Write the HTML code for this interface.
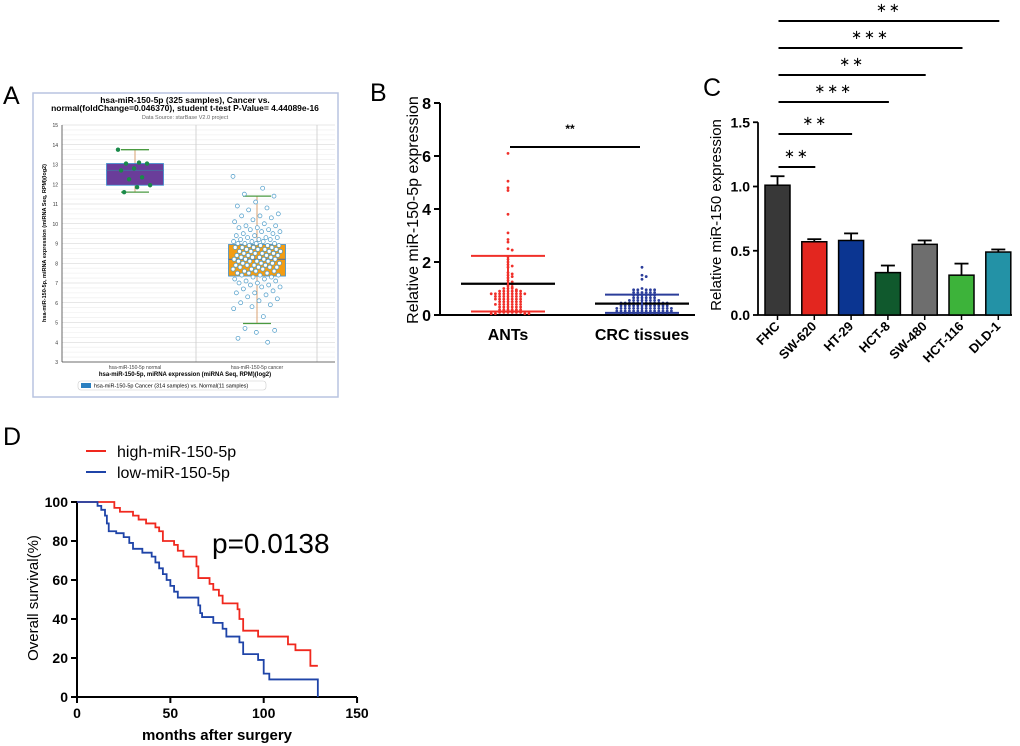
<!DOCTYPE html>
<html><head><meta charset="utf-8"><style>
html,body{margin:0;padding:0;background:#fff}
svg{display:block;font-family:"Liberation Sans",Arial,sans-serif}
</style></head><body>
<svg id="fig" width="1020" height="746" viewBox="0 0 1020 746" xmlns="http://www.w3.org/2000/svg">
<text x="3" y="104" font-size="25">A</text>
<text x="370" y="101" font-size="25">B</text>
<text x="703" y="96" font-size="25">C</text>
<text x="3" y="445" font-size="25">D</text>
<g id="pa"></g>
<g id="pb"></g>
<g id="pc"></g>
<g id="pd"></g>
</svg>
<script>
// ---------- Panel A data ----------
const aNormal=[13.75,13.1,13.05,13.05,12.8,12.7,12.35,12.25,11.95,11.85,11.6];
const aNormalBox=[11.6,11.95,12.7,13.05,13.75];
const aCancerBox=[4.95,7.35,8.2,8.95,11.4];
const aCancer=[12.4,11.8,11.5,11.4,11.1,10.9,10.8,10.7,10.5,10.4,10.4,10.3,10.2,10.1,10,9.9,9.9,9.8,9.8,9.7,9.7,9.6,9.6,9.5,9.5,9.4,9.4,9.3,9.3,9.3,9.2,9.2,9.2,9.1,9.1,9.1,9,9,9,9,8.9,8.9,8.9,8.9,8.8,8.8,8.8,8.8,8.7,8.7,8.7,8.7,8.6,8.6,8.6,8.6,8.5,8.5,8.5,8.5,8.4,8.4,8.4,8.4,8.3,8.3,8.3,8.3,8.2,8.2,8.2,8.2,8.1,8.1,8.1,8.1,8,8,8,8,7.9,7.9,7.9,7.9,7.8,7.8,7.8,7.8,7.7,7.7,7.7,7.6,7.6,7.6,7.5,7.5,7.5,7.4,7.4,7.4,7.3,7.3,7.2,7.2,7.1,7.1,7,7,6.9,6.9,6.8,6.8,6.7,6.6,6.5,6.5,6.4,6.3,6.2,6.1,6,5.9,5.8,5.7,5.3,4.7,4.6,4.5,4.2,4.0];
// ---------- Panel B data ----------
const bAnts=[6.1,5.05,4.8,4.7,3.8,3.1,2.85,2.75,2.5,2.45,2.2,2.1,2.0,1.9,1.85,1.8,1.6,1.55,1.5,1.45,1.4,1.3,1.25,1.2,1.15,1.1,1.05,1.0,1.0,1.0,0.95,0.9,0.9,0.9,0.9,0.9,0.9,0.8,0.8,0.8,0.8,0.8,0.8,0.8,0.8,0.8,0.7,0.7,0.7,0.7,0.7,0.7,0.7,0.6,0.6,0.6,0.6,0.6,0.6,0.6,0.5,0.5,0.5,0.5,0.5,0.5,0.4,0.4,0.4,0.4,0.4,0.4,0.4,0.3,0.3,0.3,0.3,0.3,0.3,0.2,0.2,0.2,0.2,0.2,0.2,0.1,0.1,0.1,0.1,0.1,0.1,0.05,0.05,0.05,0.05];
const bCrc=[1.8,1.5,1.45,1.35,1.0,0.95,0.95,0.95,0.95,0.95,0.85,0.85,0.85,0.85,0.85,0.85,0.75,0.75,0.75,0.75,0.75,0.75,0.65,0.65,0.65,0.65,0.65,0.65,0.55,0.55,0.55,0.55,0.55,0.55,0.55,0.55,0.45,0.45,0.45,0.45,0.45,0.45,0.45,0.45,0.45,0.45,0.45,0.45,0.35,0.35,0.35,0.35,0.35,0.35,0.35,0.35,0.35,0.35,0.35,0.35,0.25,0.25,0.25,0.25,0.25,0.25,0.25,0.25,0.25,0.25,0.25,0.25,0.25,0.25,0.15,0.15,0.15,0.15,0.15,0.15,0.15,0.15,0.15,0.15,0.15,0.15,0.15,0.15,0.08,0.08,0.08,0.08,0.08,0.08,0.08,0.08,0.08,0.08,0.08,0.08];
const bMean=[1.18,0.43];
const bSdLow=[0.13,0.08];
const bSdHigh=[2.23,0.77];
const bTicks=[0,2,4,6,8];
// ---------- Panel C data ----------
const cCats=["FHC","SW-620","HT-29","HCT-8","SW-480","HCT-116","DLD-1"];
const cVals=[1.01,0.57,0.58,0.33,0.55,0.31,0.49];
const cErr=[0.07,0.02,0.055,0.055,0.03,0.09,0.02];
const cColors=["#383838","#e3261f","#0b3591","#10592d","#6e6e6e","#3db33a","#2392a6"];
const cTicks=[0,0.5,1.0,1.5];
const cSigTarget=[1,2,3,4,5,6];
const cSigLabel=["**","**","***","**","***","**"];
// ---------- Panel D data ----------
const dHighT=[0,20,23,30,33,37,42,44,46,52,54,57,64,65,71,73,76,78,86,87,89,97,113,117,125,129];
const dHighS=[100,97,95,93,91,89,87,85,80,78,75,72,67,61,58,55,52,48,45,40,34,31,27,24,16,16];
const dLowT=[0,11,13,15,16,17,21,25,28,30,35,40,42,44,46,48,50,52,54,65,66,67,73,78,80,87,89,97,100,103,129];
const dLowS=[100,98,96,93,89,85,84,82,79,76,74,72,69,66,63,60,57,54,51,47,43,41,38,35,31,28,22,19,12,9,9];
const dXTicks=[0,50,100,150];
const dYTicks=[0,20,40,60,80,100];

const NS="http://www.w3.org/2000/svg";
function mk(parent,tag,attrs,txt){const e=document.createElementNS(NS,tag);for(const k in attrs)e.setAttribute(k,attrs[k]);if(txt!==undefined)e.textContent=txt;parent.appendChild(e);return e;}

// ================= Panel A =================
(function(){
const g=document.getElementById('pa');
const yA=v=>362-(v-3)*19.75;
const L=62,R=335;
mk(g,'rect',{x:33,y:93,width:305,height:304,fill:'#fff',stroke:'#b8c4e0','stroke-width':1.5});
const cp=mk(g,'clipPath',{id:'acl'});mk(cp,'rect',{x:34,y:94,width:303,height:302});
const c=mk(g,'g',{'clip-path':'url(#acl)'});
for(let v=3;v<=15;v+=0.25){const ln=mk(c,'line',{x1:L,x2:R,y1:yA(v),y2:yA(v),stroke:Number.isInteger(v)?'#cfcfcf':'#ececec','stroke-width':0.6});
}
[196,317].forEach(x=>mk(c,'line',{x1:x,x2:x,y1:125,y2:362,stroke:'#ccc','stroke-width':0.8}));
mk(c,'line',{x1:L,x2:L,y1:125,y2:362,stroke:'#444','stroke-width':0.8});
mk(c,'line',{x1:L,x2:R,y1:362,y2:362,stroke:'#444','stroke-width':0.8});
for(let v=3;v<=15;v++){const t=mk(c,'text',{x:L-4,y:yA(v)+2,'font-size':5,'text-anchor':'end',fill:'#333'},String(v));}
const tt=mk(c,'text',{x:185,y:103,'font-size':8.5,'font-weight':'bold','text-anchor':'middle'},'hsa-miR-150-5p (325 samples), Cancer vs.');
mk(c,'text',{x:185,y:111,'font-size':8.5,'font-weight':'bold','text-anchor':'middle'},'normal(foldChange=0.046370), student t-test P-Value= 4.44089e-16');
mk(c,'text',{x:185,y:119,'font-size':5.5,'text-anchor':'middle',fill:'#666'},'Data Source: starBase V2.0 project');
const yt=mk(c,'text',{transform:'translate(46,243) rotate(-90)','font-size':5.5,'font-weight':'bold','text-anchor':'middle'},'hsa-miR-150-5p, miRNA expression (miRNA Seq, RPM)(log2)');
mk(c,'text',{x:135,y:369,'font-size':5,'text-anchor':'middle',fill:'#444'},'hsa-miR-150-5p normal');
mk(c,'text',{x:257,y:369,'font-size':5,'text-anchor':'middle',fill:'#444'},'hsa-miR-150-5p cancer');
mk(c,'text',{x:185,y:376,'font-size':6,'font-weight':'bold','text-anchor':'middle'},'hsa-miR-150-5p, miRNA expression (miRNA Seq, RPM)(log2)');
const lg=mk(c,'rect',{x:78,y:381,width:188,height:9,rx:3,fill:'#fff',stroke:'#ccc','stroke-width':0.6});
mk(c,'rect',{x:81,y:383,width:10,height:5,fill:'#2a7fc0'});
mk(c,'text',{x:94,y:387.5,'font-size':5.5},'hsa-miR-150-5p Cancer (314 samples) vs. Normal(11 samples)');
function box(cx,b,fill,w){
 mk(c,'line',{x1:cx,x2:cx,y1:yA(b[4]),y2:yA(b[0]),stroke:'#d9a070','stroke-width':1});
 const r=mk(c,'rect',{x:cx-w/2,y:yA(b[3]),width:w,height:yA(b[1])-yA(b[3]),fill:fill,stroke:'#3c8fd0','stroke-width':0.8});
 
 mk(c,'line',{x1:cx-w/2,x2:cx+w/2,y1:yA(b[2]),y2:yA(b[2]),stroke:'#4a6aa0','stroke-width':1});
 [b[0],b[4]].forEach(v=>mk(c,'line',{x1:cx-14,x2:cx+14,y1:yA(v),y2:yA(v),stroke:'#4a9a40','stroke-width':1.3}));
}
box(135,aNormalBox,'#6a3d9a',57);
box(257,aCancerBox,'#f39c12',57);
aNormal.forEach((v,i)=>{const d=mk(c,'circle',{cx:135+((i*0.618)%1-0.5)*34,cy:yA(v),r:2.2,fill:'#1a8a4a'});});
aCancer.forEach((v,i)=>{const d=mk(c,'circle',{cx:257+((i*0.618)%1-0.5)*48,cy:yA(v),r:2,fill:'#fff',stroke:'#4a9ac8','stroke-width':0.7});});
})();

// ================= Panel B =================
(function(){
const g=document.getElementById('pb');
const yB=v=>315-v*26.5;
const centers=[508,642];
mk(g,'line',{x1:440,x2:440,y1:yB(8),y2:315,stroke:'#000','stroke-width':2});
mk(g,'line',{x1:440,x2:695,y1:315,y2:315,stroke:'#000','stroke-width':2});
bTicks.forEach(v=>{mk(g,'line',{x1:434,x2:440,y1:yB(v),y2:yB(v),stroke:'#000','stroke-width':2});
 const t=mk(g,'text',{x:431,y:yB(v)+6,'font-size':16,'font-weight':'bold','text-anchor':'end'},String(v));});
const yt=mk(g,'text',{transform:'translate(418,210) rotate(-90)','font-size':16,'text-anchor':'middle'},'Relative miR-150-5p expression');
["ANTs","CRC tissues"].forEach((s,i)=>{const t=mk(g,'text',{x:centers[i],y:340,'font-size':16,'font-weight':'bold','text-anchor':'middle'},s);});
[[bAnts,'#f0302a'],[bCrc,'#2b3d9a']].forEach(([arr,col],gi)=>{
 const bins={};
 arr.forEach(v=>{const k=Math.round(v*10);bins[k]=(bins[k]||0)+1;const n=bins[k]-1;const off=(n%2?1:-1)*Math.ceil(n/2)*4.2;
  const d=mk(g,'circle',{cx:centers[gi]+off,cy:yB(v),r:1.4,fill:col});});
 const cx=centers[gi];
 const m=mk(g,'line',{x1:cx-47,x2:cx+47,y1:yB(bMean[gi]),y2:yB(bMean[gi]),stroke:'#000','stroke-width':2.2});
 const ec=gi?'#2b3d9a':'#f0302a';
 mk(g,'line',{x1:cx,x2:cx,y1:yB(bSdHigh[gi]),y2:yB(bSdLow[gi]),stroke:ec,'stroke-width':2});
 [bSdHigh[gi],bSdLow[gi]].forEach(v=>mk(g,'line',{x1:cx-37,x2:cx+37,y1:yB(v),y2:yB(v),stroke:ec,'stroke-width':2}));
});
const s=mk(g,'line',{x1:510,x2:640,y1:147,y2:147,stroke:'#000','stroke-width':2});
mk(g,'text',{x:570,y:133,'font-size':12,'font-weight':'bold','text-anchor':'middle'},'**');
})();

// ================= Panel C =================
(function(){
const g=document.getElementById('pc');
const yC=v=>315-v*128.5;
const xC=i=>777.5+i*36.8;
const bw=25;
mk(g,'line',{x1:758,x2:758,y1:yC(1.5),y2:315,stroke:'#000','stroke-width':1.8});
mk(g,'line',{x1:758,x2:1012,y1:315,y2:315,stroke:'#000','stroke-width':1.8});
cTicks.forEach(v=>{mk(g,'line',{x1:753,x2:758,y1:yC(v),y2:yC(v),stroke:'#000','stroke-width':1.8});
 const t=mk(g,'text',{x:750,y:yC(v)+5,'font-size':14,'font-weight':'bold','text-anchor':'end'},v.toFixed(1));});
const yt=mk(g,'text',{transform:'translate(721,215) rotate(-90)','font-size':15,'text-anchor':'middle'},'Relative miR-150 expression');
cCats.forEach((s,i)=>{
 const x=xC(i);
 mk(g,'line',{x1:x,x2:x,y1:315,y2:320,stroke:'#000','stroke-width':1.5});
 mk(g,'line',{x1:x,x2:x,y1:yC(cVals[i]+cErr[i]),y2:yC(cVals[i]),stroke:'#000','stroke-width':1.8});
 mk(g,'line',{x1:x-7,x2:x+7,y1:yC(cVals[i]+cErr[i]),y2:yC(cVals[i]+cErr[i]),stroke:'#000','stroke-width':1.8});
 const r=mk(g,'rect',{x:x-bw/2,y:yC(cVals[i]),width:bw,height:315-yC(cVals[i]),fill:cColors[i],stroke:'#000','stroke-width':1.5});
 
 const t=mk(g,'text',{transform:'translate('+(x+3)+',327) rotate(-45)','font-size':13,'font-weight':'bold','text-anchor':'end'},s);
});
const sigY=[167,134,102,75,48,21];
cSigTarget.forEach((ti,k)=>{
 const x1=xC(0)+1,x2=xC(ti)+1;
 const l=mk(g,'line',{x1:x1,x2:x2,y1:sigY[k],y2:sigY[k],stroke:'#000','stroke-width':2});
 mk(g,'text',{x:(x1+x2)/2,y:sigY[k]-9,'font-size':13,'text-anchor':'middle','letter-spacing':'2'},cSigLabel[k].replace(/\*/g,'\u2217'));
});
})();

// ================= Panel D =================
(function(){
const g=document.getElementById('pd');
const xD=t=>77+t*1.867;
const yD=s=>697-s*1.95;
mk(g,'line',{x1:77,x2:77,y1:yD(100),y2:697,stroke:'#000','stroke-width':2});
mk(g,'line',{x1:77,x2:357,y1:697,y2:697,stroke:'#000','stroke-width':2});
dXTicks.forEach(v=>{mk(g,'line',{x1:xD(v),x2:xD(v),y1:697,y2:703,stroke:'#000','stroke-width':2});
 const t=mk(g,'text',{x:xD(v),y:718,'font-size':14,'font-weight':'bold','text-anchor':'middle'},String(v));});
dYTicks.forEach(v=>{mk(g,'line',{x1:71,x2:77,y1:yD(v),y2:yD(v),stroke:'#000','stroke-width':2});
 const t=mk(g,'text',{x:68,y:yD(v)+5,'font-size':14,'font-weight':'bold','text-anchor':'end'},String(v));});
const xt=mk(g,'text',{x:217,y:740,'font-size':15,'font-weight':'bold','text-anchor':'middle'},'months after surgery');
const yt=mk(g,'text',{transform:'translate(38,598) rotate(-90)','font-size':15,'text-anchor':'middle'},'Overall survival(%)');
function km(T,S,col,name,end0){
 let d='M'+xD(T[0])+','+yD(S[0]);
 for(let i=1;i<T.length;i++){d+=' H'+xD(T[i])+' V'+yD(S[i]);}
 if(end0)d+=' V'+yD(0);
 const p=mk(g,'path',{d:d,fill:'none',stroke:col,'stroke-width':1.8});
}
km(dHighT,dHighS,'#f0281e','km-high-curve',false);
km(dLowT,dLowS,'#1f44a8','km-low-curve',true);
const pv=mk(g,'text',{x:212,y:553,'font-size':28},'p=0.0138');
const l1=mk(g,'g',{});
mk(l1,'line',{x1:86,x2:106,y1:451,y2:451,stroke:'#f0281e','stroke-width':2});
mk(l1,'text',{x:117,y:457,'font-size':16},'high-miR-150-5p');
const l2=mk(g,'g',{});
mk(l2,'line',{x1:86,x2:106,y1:472,y2:472,stroke:'#1f44a8','stroke-width':2});
mk(l2,'text',{x:117,y:478,'font-size':16},'low-miR-150-5p');
})();
</script>
</body></html>
